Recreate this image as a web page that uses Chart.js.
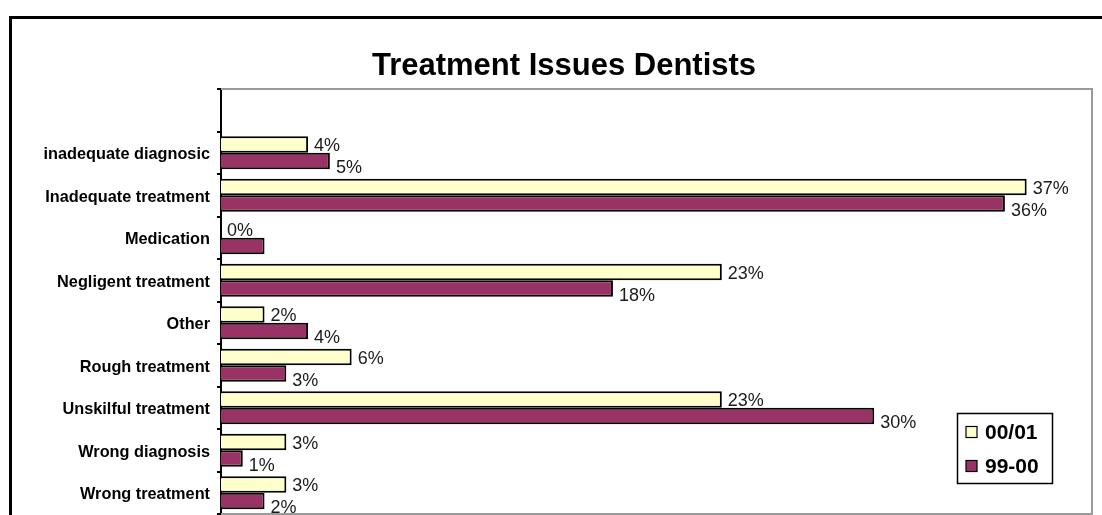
<!DOCTYPE html>
<html>
<head>
<meta charset="utf-8">
<script src="https://cdn.jsdelivr.net/npm/chart.js@4.4.1/dist/chart.umd.min.js"></script>
<style>
  html, body { margin: 0; padding: 0; background: #fff; }
  #wrap { width: 1102px; height: 515px; }
</style>
</head>
<body>
<div id="wrap"><canvas id="chart" width="1102" height="515"></canvas></div>
<script>
// ── DATA ───────────────────────────────────────────
const categories = [
  '', 'inadequate diagnosic', 'Inadequate treatment', 'Medication',
  'Negligent treatment', 'Other', 'Rough treatment', 'Unskilful treatment',
  'Wrong diagnosis', 'Wrong treatment'
];
const series0001 = [null, 4, 37, 0, 23, 2, 6, 23, 3, 3];
const series9900 = [null, 5, 36, 2, 18, 4, 3, 30, 1, 2];
const valueLabels0001 = ['', '4%', '37%', '0%', '23%', '2%', '6%', '23%', '3%', '3%'];
const valueLabels9900 = ['', '5%', '36%', '', '18%', '4%', '3%', '30%', '1%', '2%'];
const xMax = 40;

const FONT = '"Liberation Sans", Arial, sans-serif';
const YELLOW = '#FFFFCC';
const MAROON = '#993366';

// ── PLUGINS ────────────────────────────────────────
const frame = {
  id: 'frame',
  beforeDraw(chart) {
    const ctx = chart.ctx;
    ctx.save();
    ctx.fillStyle = '#fff';
    ctx.fillRect(0, 0, chart.width, chart.height);
    ctx.strokeStyle = '#000';
    ctx.lineWidth = 3;
    ctx.strokeRect(10.5, 17.5, chart.width + 20, chart.height + 20);
    // title
    ctx.fillStyle = '#000';
    ctx.font = `bold 31px ${FONT}`;
    ctx.textAlign = 'center';
    ctx.textBaseline = 'alphabetic';
    ctx.fillText('Treatment Issues Dentists', 564, 75);
    ctx.restore();
  },
  beforeDatasetsDraw(chart) {
    const { ctx, chartArea: a } = chart;
    ctx.save();
    ctx.strokeStyle = '#9a9a9a';
    ctx.lineWidth = 2;
    ctx.beginPath();
    ctx.moveTo(a.left, a.top);
    ctx.lineTo(a.right, a.top);
    ctx.lineTo(a.right, a.bottom);
    ctx.lineTo(a.left, a.bottom);
    ctx.stroke();
    ctx.restore();
  }
};

const valueLabels = {
  id: 'valueLabels',
  afterDatasetsDraw(chart) {
    const ctx = chart.ctx;
    const sets = [valueLabels0001, valueLabels9900];
    const dy = [2, 7];
    ctx.save();
    ctx.font = `18px ${FONT}`;
    ctx.fillStyle = '#1a1a1a';
    ctx.textAlign = 'left';
    ctx.textBaseline = 'middle';
    chart.data.datasets.forEach((ds, di) => {
      chart.getDatasetMeta(di).data.forEach((el, i) => {
        const txt = sets[di][i];
        if (!txt) return;
        ctx.fillText(txt, el.x + 6, el.y + dy[di]);
      });
    });
    ctx.restore();
  }
};

const boxLegend = {
  id: 'boxLegend',
  afterDraw(chart) {
    const ctx = chart.ctx;
    const x = 957, y = 413, w = 95, h = 70;
    ctx.save();
    ctx.fillStyle = '#fff';
    ctx.fillRect(x, y, w, h);
    ctx.strokeStyle = '#000';
    ctx.lineWidth = 1.5;
    ctx.strokeRect(x + 0.5, y + 0.5, w, h);
    ctx.font = `bold 21px ${FONT}`;
    ctx.textBaseline = 'middle';
    chart.data.datasets.forEach((ds, i) => {
      const cy = y + 19 + i * 34;
      ctx.fillStyle = ds.backgroundColor;
      ctx.fillRect(x + 9, cy - 5.5, 11, 11);
      ctx.lineWidth = 1.2;
      ctx.strokeRect(x + 9, cy - 5.5, 11, 11);
      ctx.fillStyle = '#000';
      ctx.fillText(ds.label, x + 28, cy + 1);
    });
    ctx.restore();
  }
};

// ── CHART ──────────────────────────────────────────
new Chart(document.getElementById('chart'), {
  type: 'bar',
  data: {
    labels: categories,
    datasets: [
      { label: '00/01', data: series0001, backgroundColor: YELLOW, borderColor: '#000', borderWidth: 2 },
      { label: '99-00', data: series9900, backgroundColor: MAROON, borderColor: '#000', borderWidth: 2 }
    ]
  },
  options: {
    indexAxis: 'y',
    responsive: false,
    animation: false,
    datasets: { bar: { categoryPercentage: 0.78, barPercentage: 1 } },
    layout: { padding: { top: 89, right: 10, bottom: 1, left: 0 } },
    plugins: {
      legend: { display: false },
      title: { display: false },
      tooltip: { enabled: false }
    },
    scales: {
      x: { display: false, min: 0, max: xMax },
      y: {
        afterFit(s) { s.width = 221; s.paddingBottom = 0; s.paddingTop = 0; },
        ticks: { color: '#000', padding: 7, labelOffset: 2, font: { family: FONT, size: 16.3, weight: 'bold' } },
        grid: { drawOnChartArea: false, drawTicks: true, tickLength: 4, color: '#000', lineWidth: 2, offset: true },
        border: { display: true, color: '#000', width: 2 }
      }
    }
  },
  plugins: [frame, valueLabels, boxLegend]
});
</script>
</body>
</html>
